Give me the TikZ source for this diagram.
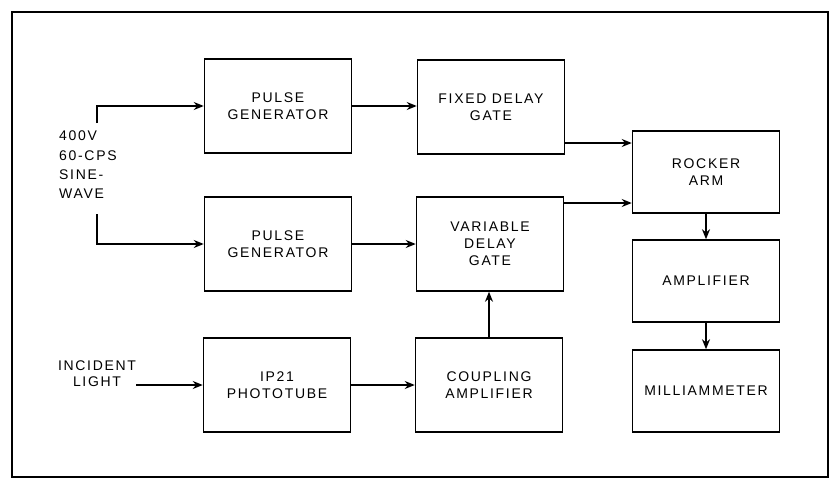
\documentclass[tikz,border=0pt]{standalone}
\usepackage{fontspec}
\newfontfamily\lettering[LetterSpace=12]{Liberation Sans}
\usetikzlibrary{arrows.meta,positioning,calc}

\begin{document}
\begin{tikzpicture}[
  x=1pt, y=-1pt,
  box/.style={draw, line width=1.5pt, minimum width=147pt, minimum height=94pt, inner sep=2pt, align=center, font=\lettering\fontsize{14}{17}\selectfont},
  shortbox/.style={box, minimum height=82pt},
  arrow/.style={-{Stealth[length=10pt, width=8pt]}, line width=2.4pt},
  label/.style={align=left, inner sep=0pt, font=\lettering\fontsize{14}{19.3}\selectfont}
]
\useasboundingbox (0,0) rectangle (830,479);
\draw[line width=2.5pt] (12,12) rectangle (828,477);

% left column
\node[box] (pgtop) at (278,106) {PULSE\\GENERATOR};
\node[box] (pgbot) at (278,244) {PULSE\\GENERATOR};
\node[box] (photo) at (277,385) {IP21\\PHOTOTUBE};

% middle column
\node[box] (fixed) at (491,107) {FIXED DELAY\\GATE};
\node[box] (vardelay) at (490,244) {VARIABLE\\DELAY\\GATE};
\node[box] (coupling) at (489,385) {COUPLING\\AMPLIFIER};

% right column
\node[shortbox] (rocker) at (706,172) {ROCKER\\ARM};
\node[shortbox] (amp) at (706,281) {AMPLIFIER};
\node[shortbox] (meter) at (706,391) {MILLIAMMETER};

% inputs
\node[label, anchor=north west] (sine) at (59,131) {400V\\60-CPS\\SINE-\\WAVE};
\node[label, align=center, font=\lettering\fontsize{14}{16}\selectfont] (light) at (97,374) {INCIDENT\\LIGHT};
\coordinate (sinetop) at (97,123);
\coordinate (sinebot) at (97,214);

\draw[arrow] (sinetop) |- (pgtop.west);
\draw[arrow] (sinebot) |- (pgbot.west);
\draw[arrow] (light.east |- photo.west) -- (photo.west);

\draw[arrow] (pgtop.east) -- (pgtop.east -| fixed.west);
\draw[arrow] (pgbot.east) -- (pgbot.east -| vardelay.west);
\draw[arrow] (photo.east) -- (photo.east -| coupling.west);
\draw[arrow] (coupling.north) -- (coupling.north |- vardelay.south);

\draw[arrow] ($(fixed.east)+(0,36)$) coordinate (fixout) -- (fixout -| rocker.west);
\draw[arrow] ($(vardelay.east)+(0,-41)$) coordinate (varout) -- (varout -| rocker.west);

\draw[arrow] (rocker.south) -- (amp.north);
\draw[arrow] (amp.south) -- (meter.north);

\end{tikzpicture}
\end{document}
